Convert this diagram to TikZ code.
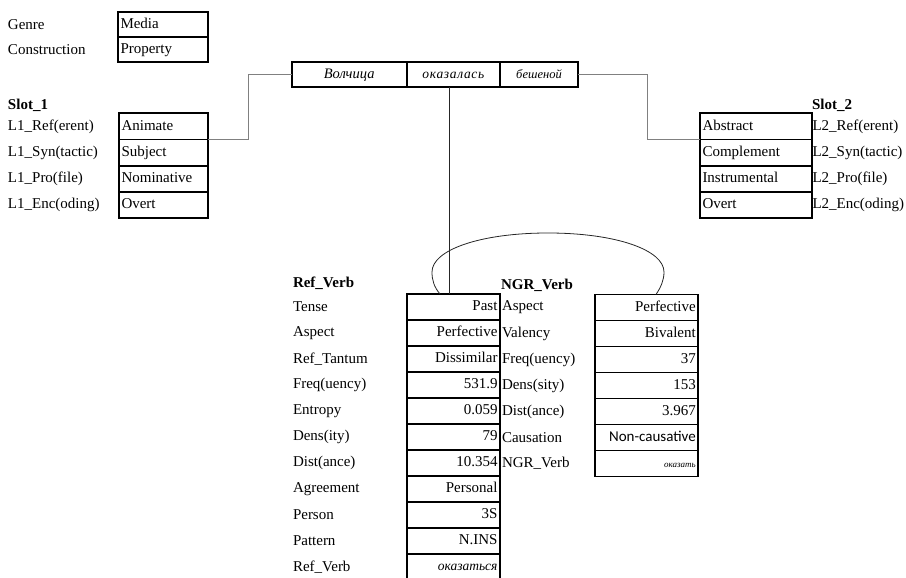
\documentclass[tikz,border=0pt]{standalone}
\usepackage{fontspec}
\setmainfont{Liberation Serif}
\newfontfamily\calib{Carlito}
\begin{document}
\begin{tikzpicture}[x=1pt,y=-1pt,
  every node/.style={font=\fontsize{15}{18}\selectfont, outer sep=0pt},
  lab/.style={anchor=west, inner sep=0pt},
  head/.style={lab, font=\fontsize{15}{18}\selectfont\bfseries},
  cellbase/.style={draw, line width=1.8pt, anchor=north west, inner xsep=2.5pt,
    inner ysep=0pt, text height=10.5pt, text depth=3pt},
  lcell/.style={cellbase, text width=#1, align=left},
  rcell/.style={cellbase, text width=#1, align=right},
  wcell/.style={cellbase, minimum width=#1, minimum height=25pt,
    font=\fontsize{13.5}{16}\selectfont\itshape},
  conn/.style={draw=gray, line width=1pt},
  link/.style={draw=black!85, line width=0.9pt},
]
\useasboundingbox (0,0) rectangle (906,578);

% genre / construction
\node[lab] (gl) at (8,24.2) {Genre};
\node[lab] (cl) at (8,49.5) {Construction};
\node[lcell=85.3pt, minimum height=25.3pt] (g) at (118,11.7) {Media};
\node[lcell=85.3pt, minimum height=25.3pt] (c) at (118,37) {Property};

% the sentence
\node[wcell=115pt, font=\fontsize{14.5}{16}\selectfont\itshape] (s1) at (291.7,62.3) {Волчица};
\node[wcell=93.3pt] (s2) at (406.7,62.3) {\addfontfeatures{LetterSpace=5}оказалась};
\node[wcell=78pt, font=\fontsize{12.5}{15}\selectfont\itshape] (s3) at (500,62.3) {бешеной};

% slot 1
\node[head] (h1) at (8,105) {Slot\_1};
\foreach \t [count=\i from 0] in {{L1\_Ref(erent)},{L1\_Syn(tactic)},{L1\_Pro(file)},{L1\_Enc(oding)}}
  \node[lab] (al\i) at (8,126.4+26.25*\i) {\t};
\foreach \t [count=\i from 0] in {Animate,Subject,Nominative,Overt}
  \node[lcell=84pt, minimum height=26.25pt] (a\i) at (119,113.3+26.25*\i) {\t};

% slot 2
\node[head] (h2) at (812,105) {Slot\_2};
\foreach \t [count=\i from 0] in {{L2\_Ref(erent)},{L2\_Syn(tactic)},{L2\_Pro(file)},{L2\_Enc(oding)}}
  \node[lab] (bl\i) at (812.5,126.4+26.25*\i) {\t};
\foreach \t [count=\i from 0] in {Abstract,Complement,Instrumental,Overt}
  \node[lcell=106.7pt, minimum height=26.25pt] (b\i) at (700,113.3+26.25*\i) {\t};

% reference verb
\node[head] (h3) at (293,283) {Ref\_Verb};
\foreach \t [count=\i from 0] in {Tense,Aspect,{Ref\_Tantum},{Freq(uency)},Entropy,{Dens(ity)},{Dist(ance)},Agreement,Person,Pattern,{Ref\_Verb}}
  \node[lab] (rl\i) at (293,307+26*\i) {\t};
\foreach \t [count=\i from 0] in {Past,Perfective,Dissimilar,531.9,0.059,79,10.354,Personal,3S,N.INS,{\fontsize{13.5}{15}\selectfont\itshape оказаться}}
  \node[rcell=87.7pt, minimum height=26pt] (r\i) at (407.3,294+26*\i) {\t};

% non-reference verb
\node[head] (h4) at (501,285) {NGR\_Verb};
\foreach \t [count=\i from 0] in {Aspect,Valency,{Freq(uency)},{Dens(sity)},{Dist(ance)},Causation,{NGR\_Verb}}
  \node[lab] (nl\i) at (502,307.5+26*\i) {\t};
\foreach \t [count=\i from 0] in {Perfective,Bivalent,37,153,3.967,{\calib Non-causative},{\fontsize{9}{11}\selectfont\itshape оказать}}
  \node[rcell=98.3pt, minimum height=26pt] (n\i) at (595,294.5+26*\i) {\t};

% connectors
\coordinate (c1) at (248,0);
\coordinate (c2) at (647.5,0);
\coordinate (vx) at (449.5,0);
\draw[conn] (s1.west) -- (s1.west -| c1) |- (a0.south east);
\draw[conn] (s3.east) -- (s3.east -| c2) |- (b0.south west);
\draw[link] (s2.south -| vx) -- (r0.north -| vx);

% loop joining the two verbs
\coordinate (e1) at (440,294);
\coordinate (e2) at (656,294.5);
\draw[link, line width=0.8pt] (e1) .. controls (434,287) and (432,280) .. (432,272)
  .. controls (432,250) and (480,233) .. (548,233)
  .. controls (616,233) and (664,250) .. (664,272)
  .. controls (664,280) and (661,287) .. (e2);
\end{tikzpicture}
\end{document}
